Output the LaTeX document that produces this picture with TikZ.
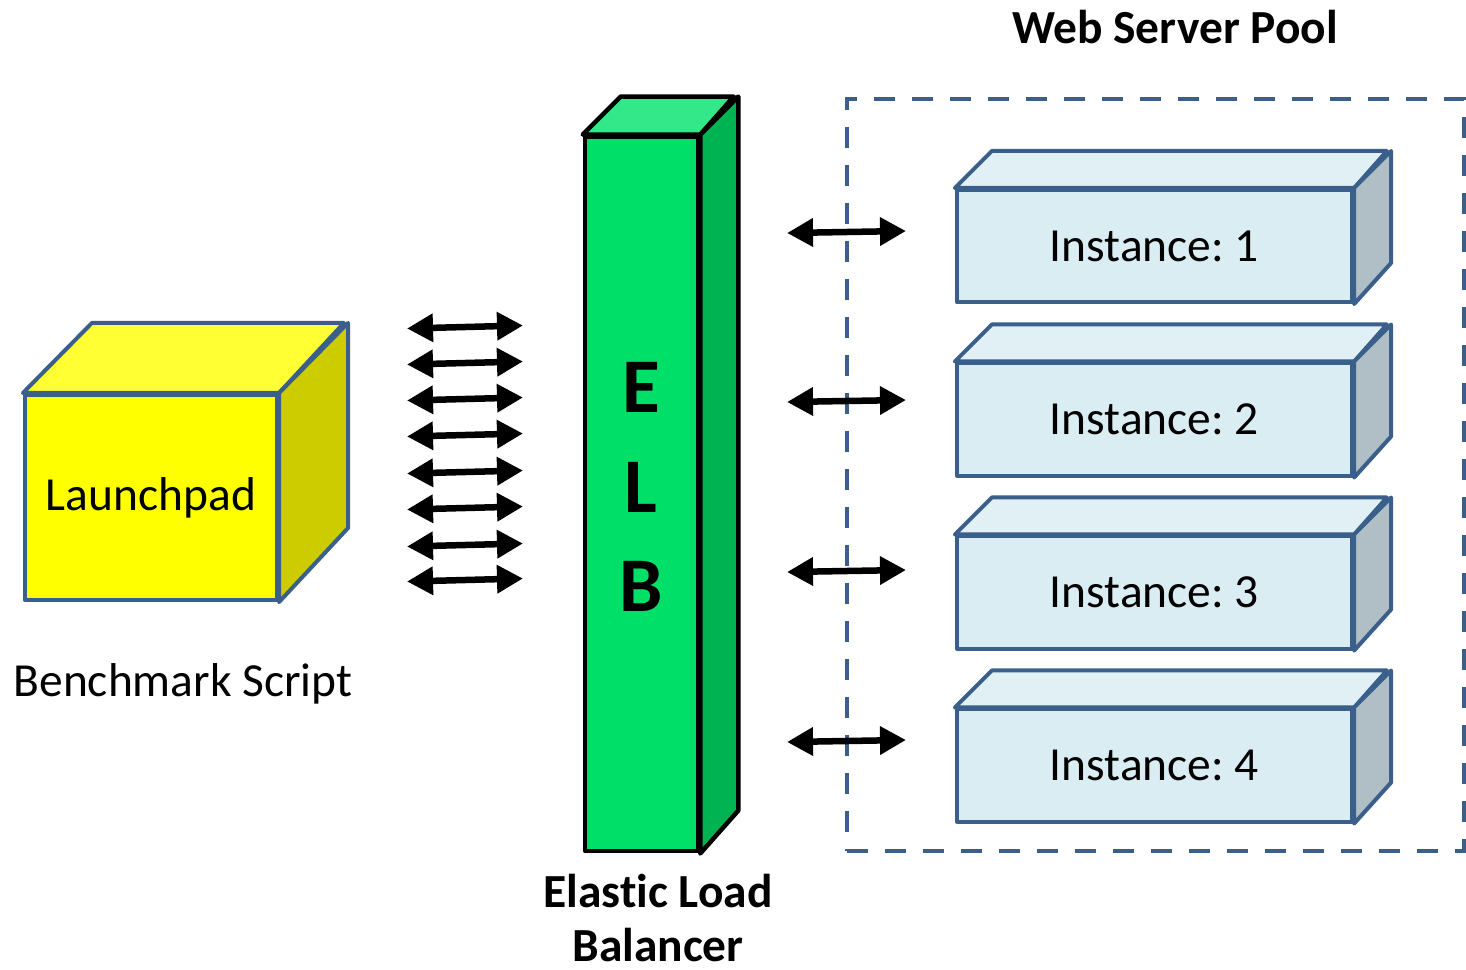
\documentclass[tikz,border=0pt]{standalone}
\usepackage{fontspec}
\setmainfont{Carlito}[Ligatures=NoCommon]
\frenchspacing
\usetikzlibrary{arrows.meta}
\definecolor{bord}{HTML}{3A5F8B}
\definecolor{lpfront}{HTML}{FFFF00}
\definecolor{lptop}{HTML}{FFFF33}
\definecolor{lpside}{HTML}{CCCC00}
\definecolor{elbfront}{HTML}{00E068}
\definecolor{elbtop}{HTML}{33E888}
\definecolor{elbside}{HTML}{00B352}
\definecolor{instfront}{HTML}{DAEDF3}
\definecolor{insttop}{HTML}{E0F0F5}
\definecolor{instside}{HTML}{B0BEC5}
\tikzset{
  face/.style={draw=bord, line width=0.04cm, line join=round},
  elbface/.style={draw=black, line width=0.045cm, line join=round},
  frontbox/.style={rectangle, inner sep=0pt, font=\fontsize{13.5}{16}\selectfont},
  lbl/.style={inner sep=0pt, font=\fontsize{13.5}{15.6}\selectfont, align=center},
  blbl/.style={lbl, font=\fontsize{13.5}{15.6}\selectfont\bfseries},
  dbl/.style={{Triangle[length=0.26cm,width=0.27cm]}-{Triangle[length=0.26cm,width=0.27cm]}, line width=0.065cm}
}
\begin{document}
\begin{tikzpicture}[x=0.01cm,y=-0.01cm]
\useasboundingbox (0,0) rectangle (1466,969);

% Launchpad cube
\node[frontbox, face, fill=lpfront, minimum width=2.52cm, minimum height=2.05cm] (lp) at (151,497.5) {Launchpad};
\draw[face, fill=lptop] (lp.north west) -- ++(69,-70) -- ++(252,0) -- (lp.north east) -- cycle;
\draw[face, fill=lpside] (lp.north east) -- ++(69,-70) -- ++(0,205) -- (lp.south east) -- cycle;
\node[lbl] (bench) at (183,684) {Benchmark Script};

% ELB column
\node[frontbox, elbface, fill=elbfront, minimum width=1.13cm, minimum height=7.14cm] (elb) at (641.5,494) {};
\draw[elbface, fill=elbtop] (elb.north west) -- ++(38,-38) -- ++(113,0) -- (elb.north east) -- cycle;
\draw[elbface, fill=elbside] (elb.north east) -- ++(38,-38) -- ++(0,714) -- (elb.south east) -- cycle;
\node[inner sep=0pt, align=center, font=\fontsize{22}{28.4}\selectfont\bfseries] (elbtext) at (641,487) {E\\L\\B};
\node[blbl] (elblbl) at (658,918) {Elastic Load\\Balancer};

% Web server pool
\node[draw=bord, line width=0.035cm, dash pattern=on 0.21cm off 0.17cm, minimum width=6.17cm, minimum height=7.52cm, inner sep=0pt] (pool) at (1155.5,475) {};
\node[blbl] (pooltitle) at (1175,27) {Web Server Pool};

\foreach \i/\yc in {1/246,2/419.5,3/592.5,4/765.5}{
  \node[frontbox, face, fill=instfront, minimum width=3.95cm, minimum height=1.12cm] (inst\i) at (1154.5,\yc) {Instance: \i};
  \draw[face, fill=insttop] (inst\i.north west) -- ++(37,-37) -- ++(395,0) -- (inst\i.north east) -- cycle;
  \draw[face, fill=instside] (inst\i.north east) -- ++(37,-37) -- ++(0,112) -- (inst\i.south east) -- cycle;
}

% left arrows
\foreach \k/\ay in {1/327,2/363,3/399,4/435,5/472,6/508,7/545,8/580}{
  \coordinate (la\k) at (407,\ay+1.5);
  \coordinate (lb\k) at (523,\ay-1.5);
  \draw[dbl] (la\k) -- (lb\k);
}
% right arrows
\foreach \k/\ay in {1/232,2/401,3/571,4/741}{
  \coordinate (ra\k) at (787,\ay+1);
  \coordinate (rb\k) at (906,\ay-1);
  \draw[dbl] (ra\k) -- (rb\k);
}
\end{tikzpicture}
\end{document}
